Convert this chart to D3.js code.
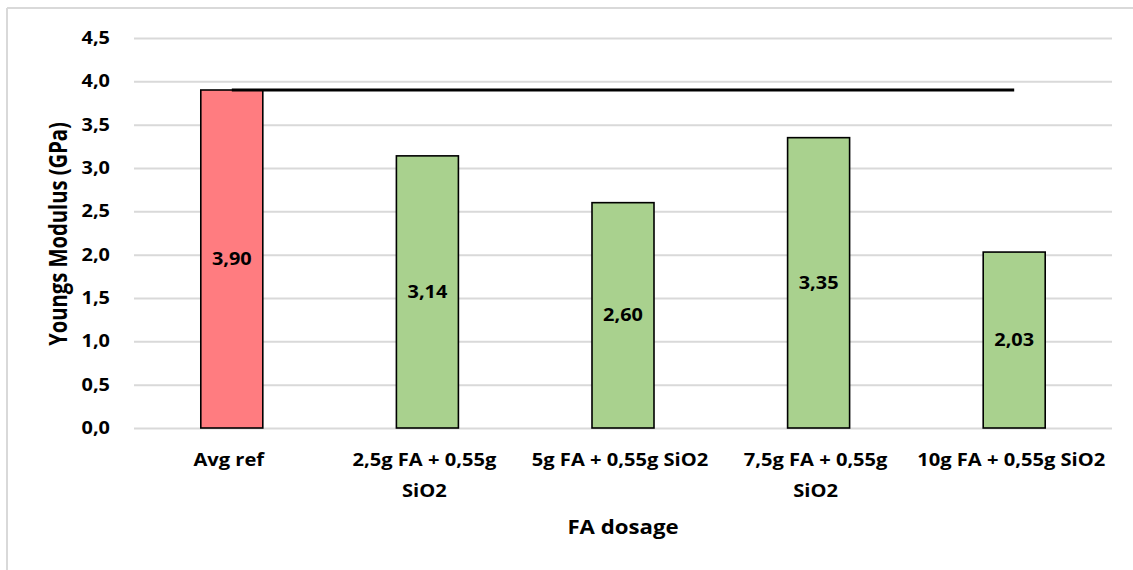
<!DOCTYPE html>
<html>
<head>
<meta charset="utf-8">
<script src="https://cdn.jsdelivr.net/npm/d3@7"></script>
<style>
  html, body { margin: 0; padding: 0; background: #fff; }
  svg { display: block; }
  text { font-family: "Open Sans", sans-serif; font-weight: bold; fill: #000; }
</style>
</head>
<body>
<svg id="chart" width="1133" height="570"></svg>
<script>
// Young's modulus per FA dosage
const categories = ["Avg ref", "2,5g FA + 0,55g SiO2", "5g FA + 0,55g SiO2", "7,5g FA + 0,55g SiO2", "10g FA + 0,55g SiO2"];
const modulus = [3.90, 3.14, 2.60, 3.35, 2.03];
const refLine = [3.90, 3.90, 3.90, 3.90, 3.90];
const barColors = ["#FF7C80", "#A9D18E", "#A9D18E", "#A9D18E", "#A9D18E"];
const yTicks = [0, 0.5, 1, 1.5, 2, 2.5, 3, 3.5, 4, 4.5];

const svg = d3.select("#chart");
const W = 1133, H = 570;
const plot = { left: 134, right: 1112, top: 38, bottom: 428 };
const SX = 1.17;      // horizontal text stretch
const FS = 17;        // tick / value label size
const FS_CAT = 17.2;  // category label size
const FS_TITLE = 19;  // axis title size

// text placed at (x, y) with a horizontal stretch
function label(g, x, y, str, size, anchor) {
  return g.append("text")
    .attr("transform", `translate(${x},${y}) scale(${SX},1)`)
    .attr("text-anchor", anchor || "middle")
    .attr("font-size", size)
    .text(str);
}

// chart-area frame (partially visible)
svg.append("line").attr("x1", 7).attr("x2", W).attr("y1", 8).attr("y2", 8)
  .attr("stroke", "#d9d9d9").attr("stroke-width", 2);
svg.append("line").attr("x1", 7).attr("x2", 7).attr("y1", 8).attr("y2", H)
  .attr("stroke", "#d9d9d9").attr("stroke-width", 2);

const x = d3.scaleBand().domain(categories).range([plot.left, plot.right]).paddingInner(0).paddingOuter(0);
const y = d3.scaleLinear().domain([0, 4.5]).range([plot.bottom, plot.top]);
const fmt = d => d3.format(".1f")(d).replace(".", ",");
const fmt2 = d => d3.format(".2f")(d).replace(".", ",");

// gridlines
const yAxis = d3.axisLeft(y).tickValues(yTicks).tickSize(-(plot.right - plot.left)).tickFormat("");
const gy = svg.append("g").attr("transform", `translate(${plot.left},0)`).call(yAxis);
gy.select(".domain").remove();
gy.selectAll(".tick line").attr("stroke", "#d9d9d9").attr("stroke-width", 2);

// y tick labels
const gyl = svg.append("g");
yTicks.forEach(v => label(gyl, 110, y(v), fmt(v), FS, "end").attr("dy", "0.36em"));

// bars
const barW = x.bandwidth() * 0.317;
svg.append("g").selectAll("rect").data(categories).join("rect")
  .attr("x", d => x(d) + (x.bandwidth() - barW) / 2)
  .attr("y", (d, i) => y(modulus[i]))
  .attr("width", barW)
  .attr("height", (d, i) => y(0) - y(modulus[i]))
  .attr("fill", (d, i) => barColors[i])
  .attr("stroke", "#000").attr("stroke-width", 1.6);

// bar value labels
const gv = svg.append("g");
categories.forEach((c, i) => {
  label(gv, x(c) + x.bandwidth() / 2, (y(modulus[i]) + y(0)) / 2, fmt2(modulus[i]), FS).attr("dy", "0.36em");
});

// reference line
const line = d3.line().x(d => x(d[0]) + x.bandwidth() / 2).y(d => y(d[1]));
svg.append("path").datum(categories.map((c, i) => [c, refLine[i]]))
  .attr("d", line).attr("fill", "none").attr("stroke", "#000").attr("stroke-width", 3.2);

// category labels, wrapped to band width
const gx = svg.append("g");
categories.forEach(c => {
  const cx = x(c) + x.bandwidth() / 2 - 3;
  const t = label(gx, cx, 466, "", FS_CAT);
  const words = c.split(" ");
  let lineWords = [];
  let ts = t.append("tspan").attr("x", 0).attr("dy", 0);
  words.forEach(w => {
    lineWords.push(w);
    ts.text(lineWords.join(" "));
    if (ts.node().getComputedTextLength() * SX > x.bandwidth() - 2 && lineWords.length > 1) {
      lineWords.pop();
      ts.text(lineWords.join(" "));
      lineWords = [w];
      ts = t.append("tspan").attr("x", 0).attr("dy", 31).text(w);
    }
  });
});

// axis titles
label(svg, (plot.left + plot.right) / 2, 534, "FA dosage", FS_TITLE);
svg.append("text")
  .attr("transform", `translate(67,${(plot.top + plot.bottom) / 2 + 1}) scale(1.22,1) rotate(-90)`)
  .attr("text-anchor", "middle").attr("font-size", 20.2).text("Youngs Modulus (GPa)");
</script>
</body>
</html>
